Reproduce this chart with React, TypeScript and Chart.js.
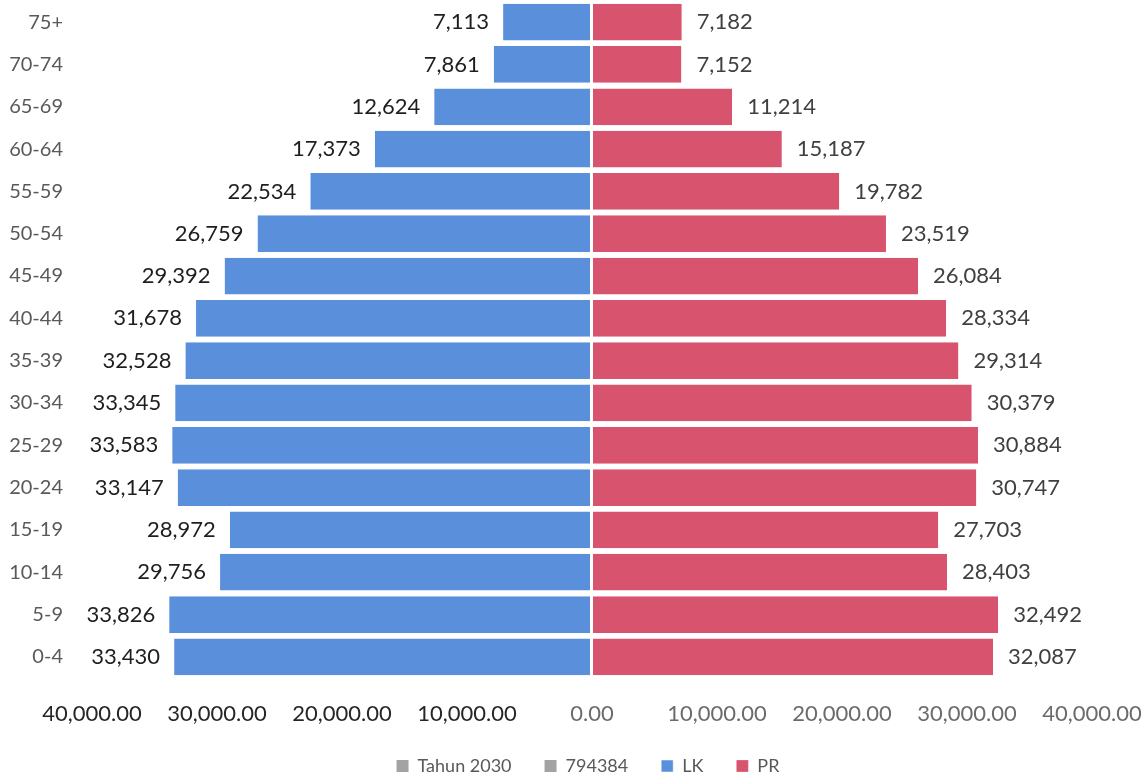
import React, { useEffect, useRef } from "react";
import { Chart, registerables } from "chart.js";

Chart.register(...registerables);

const categories = ["75+", "70-74", "65-69", "60-64", "55-59", "50-54", "45-49", "40-44", "35-39", "30-34", "25-29", "20-24", "15-19", "10-14", "5-9", "0-4"];
const lkValues = [7113, 7861, 12624, 17373, 22534, 26759, 29392, 31678, 32528, 33345, 33583, 33147, 28972, 29756, 33826, 33430];
const prValues = [7182, 7152, 11214, 15187, 19782, 23519, 26084, 28334, 29314, 30379, 30884, 30747, 27703, 28403, 32492, 32087];
const legendExtras = ["Tahun 2030", "794384"];

const FONT = "Lato, 'Open Sans', sans-serif";
const BLUE = "#5A8FDB";
const RED = "#D8546E";
const GRAY = "#A3A3A3";

const fmtInt = (v: number) => Math.abs(v).toLocaleString("en-US");
const fmtTick = (v: number) => Math.abs(v).toLocaleString("en-US", { minimumFractionDigits: 2, maximumFractionDigits: 2 });

const labelPlugin = {
  id: "barValueLabels",
  afterLayout(chart: any) {
    if (chart.legend) {
      chart.legend.left = 28;
      chart.legend.top -= 10;
    }
  },
  afterDatasetsDraw(chart: any) {
    const ctx = chart.ctx;
    ctx.save();
    ctx.font = `22px ${FONT}`;
    ctx.textBaseline = "middle";
    chart.data.datasets.forEach((ds: any, di: number) => {
      if (ds.label !== "LK" && ds.label !== "PR") return;
      const meta = chart.getDatasetMeta(di);
      meta.data.forEach((el: any, i: number) => {
        const v = ds.data[i];
        if (v == null) return;
        if (ds.label === "LK") {
          ctx.fillStyle = "#1e1e1e";
          ctx.textAlign = "right";
          ctx.fillText(fmtInt(v), el.x - 14, el.y);
        } else {
          ctx.fillStyle = "#404040";
          ctx.textAlign = "left";
          ctx.fillText(fmtInt(v), el.x + 15, el.y);
        }
      });
    });
    ctx.restore();
  },
};

export default function App() {
  const ref = useRef<HTMLCanvasElement | null>(null);

  useEffect(() => {
    document.body.style.margin = "0";
    const canvas = ref.current;
    if (!canvas) return;
    const chart = new Chart(canvas, {
      type: "bar",
      data: {
        labels: categories,
        datasets: [
          { label: legendExtras[0], data: [], backgroundColor: GRAY },
          { label: legendExtras[1], data: [], backgroundColor: GRAY },
          {
            label: "LK",
            data: lkValues.map((v) => -v),
            backgroundColor: BLUE,
            borderColor: "#ffffff",
            borderWidth: { top: 0, bottom: 0, left: 0, right: 2 },
            borderSkipped: false,
          },
          {
            label: "PR",
            data: prValues,
            backgroundColor: RED,
            borderColor: "#ffffff",
            borderWidth: { top: 0, bottom: 0, left: 1, right: 0 },
            borderSkipped: false,
          },
        ],
      },
      options: {
        indexAxis: "y",
        responsive: false,
        animation: false,
        barPercentage: 0.87,
        categoryPercentage: 1,
        layout: { padding: { left: 0, right: 0, top: 1, bottom: 0 } },
        scales: {
          x: {
            stacked: true,
            min: -40000,
            max: 40000,
            border: { display: false },
            grid: { display: false, drawTicks: false },
            ticks: {
              stepSize: 10000,
              padding: 23,
              maxRotation: 0,
              autoSkip: false,
              font: { family: FONT, size: 22 },
              color: (c: any) => (c.tick && c.tick.value < 0 ? "#262626" : "#6b6b6b"),
              callback: (v: any) => fmtTick(Number(v)),
            },
            afterFit: (s: any) => {
              s.height = 56;
              s.paddingRight = 56;
            },
          },
          y: {
            stacked: true,
            border: { display: false },
            grid: { display: false, drawTicks: false },
            ticks: {
              padding: 29,
              font: { family: FONT, size: 20 },
              color: "#595959",
            },
            afterFit: (s: any) => {
              s.width = 92;
              s.paddingTop = 0;
              s.paddingBottom = 0;
            },
          },
        },
        plugins: {
          legend: {
            position: "bottom",
            maxHeight: 45,
            labels: {
              boxWidth: 12,
              boxHeight: 12,
              padding: 33,
              color: "#595959",
              font: { family: FONT, size: 18 },
            },
          },
          tooltip: { enabled: false },
        },
      },
      plugins: [labelPlugin],
    } as any);
    return () => chart.destroy();
  }, []);

  return (
    <div style={{ width: 1148, height: 779 }}>
      <canvas ref={ref} width={1148} height={779} style={{ display: "block" }} />
    </div>
  );
}
